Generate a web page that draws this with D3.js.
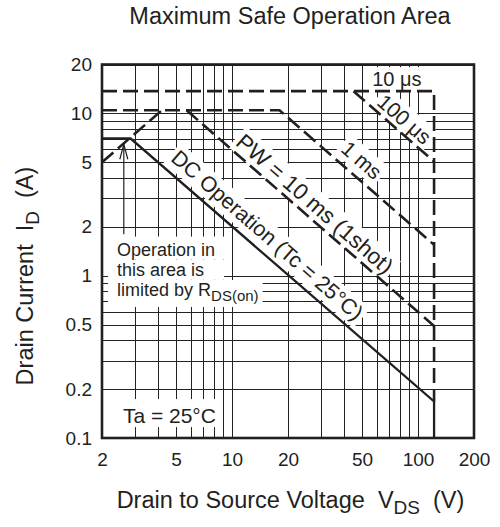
<!DOCTYPE html>
<html>
<head>
<meta charset="utf-8">
<script src="https://cdn.jsdelivr.net/npm/d3@7"></script>
<style>
  body { margin: 0; background: #fff; }
  svg text { font-family: "Liberation Sans", Arial, Helvetica, sans-serif; fill: #231f20; white-space: pre; }
</style>
</head>
<body>
<svg width="500" height="527"></svg>
<script>
// tick labels
const xTicks = [2, 5, 10, 20, 50, 100, 200];
const yTicks = [0.1, 0.2, 0.5, 1, 2, 5, 10, 20];

// SOA boundaries as [V_DS, I_D]
const dcLine = [[2, 7], [2.85, 7], [122, 0.168], [122, 0.1]];
const rdsLine = [[2, 5], [4.2, 10.45]];
const pulse10us = [[2, 13.7], [122, 13.7], [122, 0.168]];
const pulse100us = [[45, 13.7], [122, 5.05]];
const pulse1ms = [[2, 10.45], [18, 10.45], [122, 1.55]];
const pulse10ms = [[5.7, 10.45], [122, 0.49]];

// arrow pointing at the R_DS(on) limit
const arrowLine = [[2.62, 1.8], [2.62, 6.45]];

// labels along the boundaries (anchor in data units)
const slopeLabels = [
  { text: "100 μs", v: 84.5, i: 9.2, size: 21 },
  { text: "1 ms", v: 49.8, i: 5.15, size: 21 },
  { text: "PW = 10 ms (1shot)", v: 27.9, i: 2.77, size: 22.5 },
  { text: "DC Operation (Tc = 25°C)", v: 15.5, i: 1.78, size: 21.5 }
];

let svg = d3.select("svg");

const x = d3.scaleLog().domain([2, 200]).range([102, 474]);
const y = d3.scaleLog().domain([0.1, 20]).range([438, 64.5]);

const gridG = svg.append("g");
const bgG = svg.append("g");
const lineG = svg.append("g");
const labelG = svg.append("g");

// grid
gridG.selectAll("line.v")
  .data(x.ticks())
  .join("line")
  .attr("class", "v")
  .attr("x1", (d) => Math.round(x(d)) + 0.5)
  .attr("x2", (d) => Math.round(x(d)) + 0.5)
  .attr("y1", y(0.1))
  .attr("y2", y(20))
  .attr("stroke", "#222")
  .attr("stroke-width", 1);

gridG.selectAll("line.h")
  .data(y.ticks())
  .join("line")
  .attr("class", "h")
  .attr("y1", (d) => Math.round(y(d)) + 0.5)
  .attr("y2", (d) => Math.round(y(d)) + 0.5)
  .attr("x1", x(2))
  .attr("x2", x(200))
  .attr("stroke", "#222")
  .attr("stroke-width", 1);

// axes (labels only)
const xAxis = svg.append("g")
  .attr("transform", `translate(0,${y(0.1)})`)
  .call(d3.axisBottom(x).tickValues(xTicks).tickFormat(d3.format("~g")).tickSize(0).tickPadding(15));
const yAxis = svg.append("g")
  .attr("transform", `translate(${x(2)},0)`)
  .call(d3.axisLeft(y).tickValues(yTicks).tickFormat(d3.format("~g")).tickSize(0).tickPadding(10));
[xAxis, yAxis].forEach((a) => {
  a.select(".domain").remove();
  a.attr("font-family", null).attr("font-size", null);
  a.selectAll("text").style("font-size", "19px").attr("fill", "#231f20");
});

// boundary lines
const line = d3.line().x((d) => x(d[0])).y((d) => y(d[1]));

[pulse10us, pulse100us, pulse1ms, pulse10ms, rdsLine].forEach((pts) => {
  lineG.append("path")
    .attr("d", line(pts))
    .attr("fill", "none")
    .attr("stroke", "#231f20")
    .attr("stroke-width", 2.6)
    .attr("stroke-dasharray", "15,6");
});

lineG.append("path")
  .attr("d", line(dcLine))
  .attr("fill", "none")
  .attr("stroke", "#231f20")
  .attr("stroke-width", 2.3);

// arrow
lineG.append("path")
  .attr("d", line(arrowLine))
  .attr("fill", "none")
  .attr("stroke", "#231f20")
  .attr("stroke-width", 1.2);
const tipX = x(arrowLine[1][0]), tipY = y(arrowLine[1][1]);
lineG.append("path")
  .attr("d", `M${tipX - 4},${tipY + 15}L${tipX},${tipY}L${tipX + 4},${tipY + 15}`)
  .attr("fill", "none")
  .attr("stroke", "#231f20")
  .attr("stroke-width", 1.2);

// white box behind a text element
function addBg(textSel, transform, pad) {
  const b = textSel.node().getBBox();
  bgG.append("rect")
    .attr("transform", transform)
    .attr("x", b.x - pad[0])
    .attr("y", b.y - pad[1])
    .attr("width", b.width + pad[0] + pad[2])
    .attr("height", b.height + pad[1] + pad[3])
    .attr("fill", "#fff");
}

// rotated labels
const angle = Math.atan2(y(1) - y(10), x(10) - x(1)) * 180 / Math.PI;
slopeLabels.forEach((d) => {
  const tr = `translate(${x(d.v)},${y(d.i)}) rotate(${angle})`;
  const t = labelG.append("text")
    .attr("transform", tr)
    .attr("text-anchor", "middle")
    .attr("dy", "0.35em")
    .style("font-size", d.size + "px")
    .text(d.text);
  addBg(t, tr, [3, 1, 3, 1]);
});

// 10 us label
const t10 = labelG.append("text")
  .attr("x", x(77))
  .attr("y", y(14.7))
  .attr("text-anchor", "middle")
  .style("font-size", "20px")
  .text("10 μs");
addBg(t10, null, [4, 1, 4, 0]);

// R_DS(on) note
const noteLines = ["Operation in", "this area is", "limited by "];
const noteX = x(2.41);
const noteTexts = noteLines.map((s, k) =>
  labelG.append("text")
    .attr("x", noteX)
    .attr("y", y(1.33) + k * 20.2)
    .style("font-size", "18px")
    .text(s)
);
noteTexts[2].append("tspan").text("R");
noteTexts[2].append("tspan").attr("dy", 5).style("font-size", "15px").text("DS(on)");
addBg(noteTexts[0], null, [9, 3, 10, 0]);
addBg(noteTexts[1], null, [9, 0, 20, 0]);
addBg(noteTexts[2], null, [9, 0, 4, 3]);

// Ta note
const taText = labelG.append("text")
  .attr("x", x(2.59))
  .attr("y", y(0.1236))
  .style("font-size", "21px")
  .text("Ta = 25°C");
addBg(taText, null, [5, 5, 6, 0]);

// frame
svg.append("rect")
  .attr("x", x(2))
  .attr("y", y(20))
  .attr("width", x(200) - x(2))
  .attr("height", y(0.1) - y(20))
  .attr("fill", "none")
  .attr("stroke", "#231f20")
  .attr("stroke-width", 2.6);

// titles
svg.append("text")
  .attr("x", 290)
  .attr("y", 24)
  .attr("text-anchor", "middle")
  .style("font-size", "23.5px")
  .text("Maximum Safe Operation Area");

const xTitle = svg.append("text")
  .attr("x", 290.5)
  .attr("y", 508)
  .attr("text-anchor", "middle")
  .attr("xml:space", "preserve")
  .style("font-size", "23.5px");
xTitle.append("tspan").text("Drain to Source Voltage  V");
xTitle.append("tspan").attr("dy", 6).style("font-size", "19px").text("DS");
xTitle.append("tspan").attr("dy", -6).text("  (V)");

const yTitle = svg.append("text")
  .attr("transform", "translate(33,276) rotate(-90)")
  .attr("text-anchor", "middle")
  .attr("xml:space", "preserve")
  .style("font-size", "23.5px");
yTitle.append("tspan").text("Drain Current  I");
yTitle.append("tspan").attr("dy", 6).style("font-size", "19px").text("D");
yTitle.append("tspan").attr("dy", -6).text("  (A)");
</script>
</body>
</html>
